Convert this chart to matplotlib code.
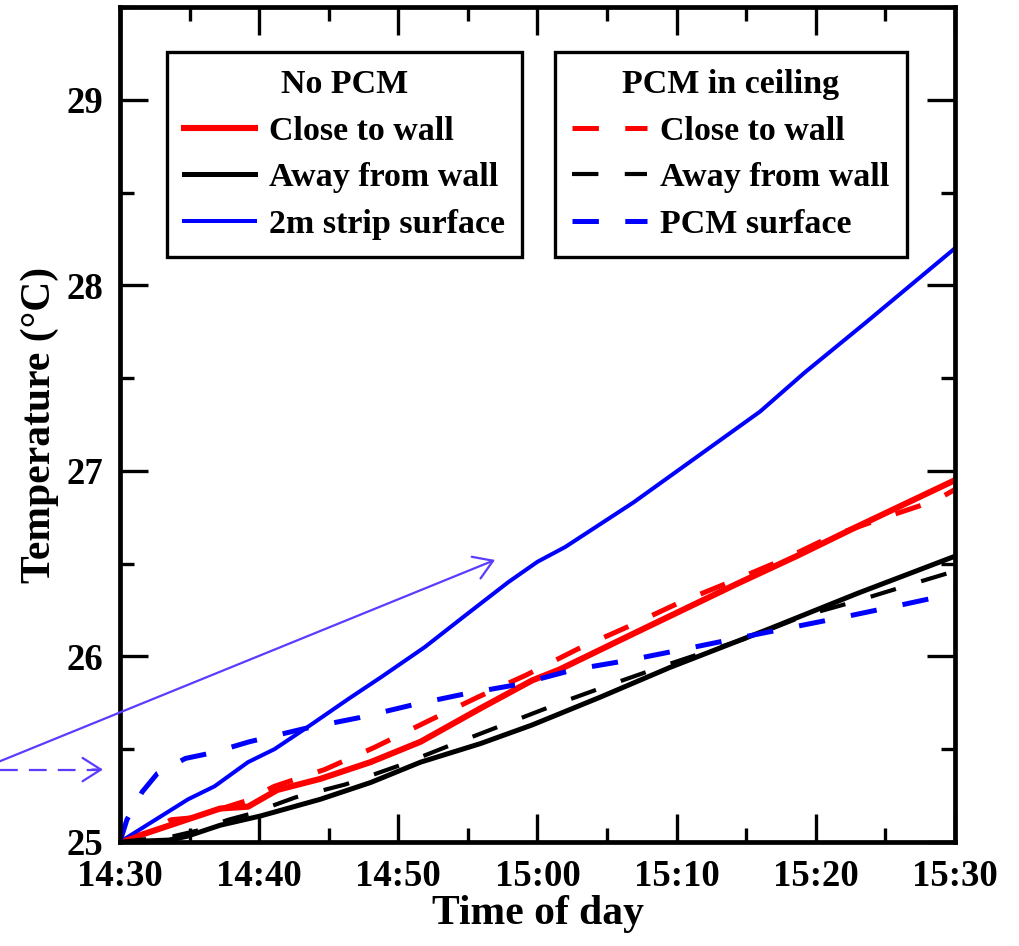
import numpy as np
import matplotlib
matplotlib.use("Agg")
import matplotlib.pyplot as plt
from matplotlib.ticker import MultipleLocator

plt.rcParams['font.family'] = ['Liberation Serif', 'DejaVu Serif']
plt.rcParams['font.weight'] = 'bold'

# minutes after 14:30
tick_labels = ['14:30', '14:40', '14:50', '15:00', '15:10', '15:20', '15:30']

# No PCM
t_close = [0, 2.0, 3.6, 5.6, 7.2, 9.2, 11.3, 14.4, 18.0, 21.6, 25.9, 29.6, 31.6, 37.1, 44.3, 48.6, 52.7, 60]
T_close = [25.0, 25.05, 25.09, 25.14, 25.18, 25.19, 25.28, 25.34, 25.43, 25.54, 25.72, 25.87, 25.93, 26.13, 26.39, 26.54, 26.69, 26.95]

t_away = [0, 3.5, 4.8, 7.2, 10.1, 14.4, 18.0, 21.6, 25.9, 29.6, 34.5, 39.5, 46.7, 53.0, 60]
T_away = [25.0, 25.01, 25.03, 25.09, 25.14, 25.23, 25.32, 25.43, 25.53, 25.63, 25.78, 25.94, 26.15, 26.34, 26.54]

t_strip = [0, 4.9, 6.8, 9.2, 11.1, 13.5, 16.4, 18.8, 21.9, 24.8, 27.9, 30.0, 32.0, 36.9, 46.0, 49.2, 53.6, 60]
T_strip = [25.0, 25.23, 25.30, 25.43, 25.50, 25.62, 25.77, 25.89, 26.05, 26.22, 26.40, 26.51, 26.59, 26.83, 27.32, 27.53, 27.80, 28.20]

# PCM in ceiling
t_close_pcm = [0, 1.65, 3.7, 5.2, 9.0, 11.1, 14.7, 18.3, 22.1, 25.7, 29.2, 32.9, 36.5, 40.2, 43.8, 47.6, 51.2, 55.0, 58.6, 60]
T_close_pcm = [25.0, 25.04, 25.12, 25.13, 25.22, 25.30, 25.39, 25.51, 25.65, 25.78, 25.90, 26.04, 26.16, 26.29, 26.40, 26.52, 26.65, 26.75, 26.84, 26.90]

t_away_pcm = [0, 3.8, 5.5, 7.8, 9.3, 12.6, 16.2, 20.0, 23.7, 28.2, 32.0, 35.7, 39.5, 45.5, 49.2, 53.0, 56.9, 60]
T_away_pcm = [25.0, 25.03, 25.06, 25.12, 25.15, 25.24, 25.31, 25.41, 25.52, 25.65, 25.76, 25.86, 25.96, 26.11, 26.22, 26.30, 26.39, 26.46]

t_surf_pcm = [0, 0.5, 1.6, 2.7, 4.7, 6.6, 9.3, 13.2, 17.2, 21.1, 24.9, 28.7, 32.7, 36.6, 40.6, 44.5, 48.5, 52.5, 56.3, 60]
T_surf_pcm = [25.0, 25.12, 25.27, 25.37, 25.45, 25.48, 25.54, 25.61, 25.67, 25.74, 25.80, 25.85, 25.93, 25.98, 26.04, 26.10, 26.16, 26.22, 26.28, 26.34]

ARROW = '#5b3cff'


def dashed(lw, on=19, off=19):
    # dash lengths given in points, matplotlib scales them by line width
    return (on / lw, off / lw)


fig = plt.figure(figsize=(10.2, 9.46), dpi=100)
ax = fig.add_axes([0.1176, 0.110, 0.8187, 0.8826])

l1, = ax.plot(t_close, T_close, color='red', lw=4.4, label='Close to wall')
l2, = ax.plot(t_away, T_away, color='black', lw=3.6, label='Away from wall')
l3, = ax.plot(t_strip, T_strip, color='blue', lw=2.9, label='2m strip surface')
l4, = ax.plot(t_close_pcm, T_close_pcm, color='red', lw=3.6, dashes=dashed(3.6), label='Close to wall')
l5, = ax.plot(t_away_pcm, T_away_pcm, color='black', lw=3.0, dashes=dashed(3.0), label='Away from wall')
l6, = ax.plot(t_surf_pcm, T_surf_pcm, color='blue', lw=3.6, dashes=dashed(3.6), label='PCM surface')

ax.set_xlim(0, 60)
ax.set_ylim(25, 29.5)
ax.set_xticks(np.arange(0, 61, 10))
ax.set_xticklabels(tick_labels)
ax.xaxis.set_minor_locator(MultipleLocator(5))
ax.set_yticks([25, 26, 27, 28, 29])
ax.yaxis.set_minor_locator(MultipleLocator(0.5))

ax.tick_params(which='both', direction='in', top=True, right=True, width=2.4, labelsize=26.5)
ax.tick_params(which='major', length=20)
ax.tick_params(which='minor', length=10)
ax.tick_params(axis='x', which='major', pad=12)
ax.tick_params(axis='y', which='major', pad=12)
for s in ax.spines.values():
    s.set_linewidth(3.4)

ax.set_xlabel('Time of day', fontsize=30, fontweight='bold', labelpad=1)
ax.set_ylabel('Temperature (\u00b0C)', fontsize=30, fontweight='bold', labelpad=5)

leg_kw = dict(loc='upper left', fontsize=24.5, frameon=True, fancybox=False, framealpha=1,
              edgecolor='black', borderaxespad=0, labelspacing=0.46, handletextpad=0.4,
              borderpad=0.5, title_fontproperties={'size': 24.5, 'weight': 'bold'})
leg1 = ax.legend(handles=[l1, l2, l3], title='No PCM', handlelength=2.1,
                 bbox_to_anchor=(0.1637, 0.945), bbox_transform=fig.transFigure, **leg_kw)
leg1.get_frame().set_linewidth(2.4)
ax.add_artist(leg1)
leg2 = ax.legend(handles=[l4, l5, l6], title='PCM in ceiling', handlelength=2.2,
                 bbox_to_anchor=(0.544, 0.945), bbox_transform=fig.transFigure, **leg_kw)
leg2.get_frame().set_linewidth(2.4)

# pointer arrows coming in from the left margin
head = '->,head_length=0.55,head_width=0.35'
ax.annotate('', xy=(26.95, 26.52), xytext=(-8.62, 25.435), annotation_clip=False,
            arrowprops=dict(arrowstyle=head, color=ARROW, lw=1.6, mutation_scale=24,
                            shrinkA=0, shrinkB=0))
ax.plot([-8.62, -1.5], [25.39, 25.39], color=ARROW, lw=1.6, dashes=(8, 5), clip_on=False)
ax.annotate('', xy=(-1.22, 25.39), xytext=(-2.0, 25.39), annotation_clip=False,
            arrowprops=dict(arrowstyle=head, color=ARROW, lw=1.6, mutation_scale=24,
                            shrinkA=0, shrinkB=0))

fig.savefig('out.png', dpi=100)
